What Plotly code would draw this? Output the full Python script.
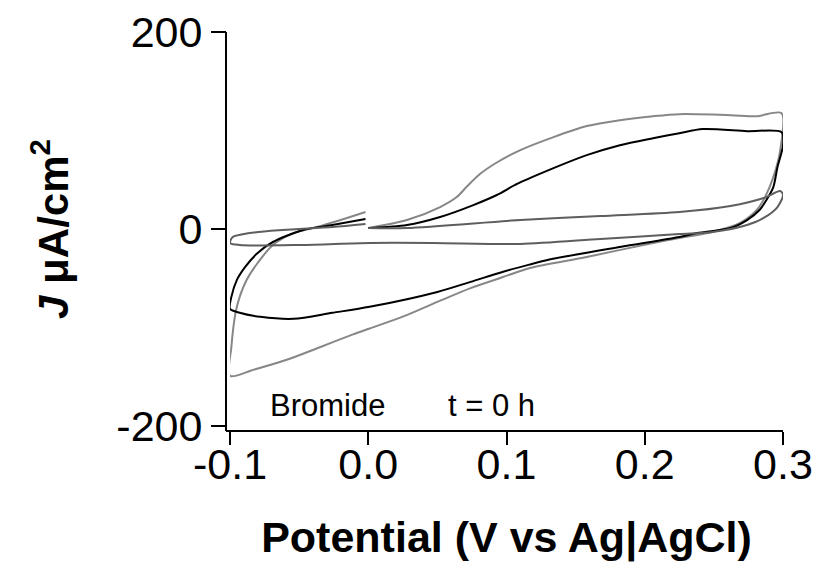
import plotly.graph_objects as go

# Potential (V vs Ag|AgCl) and current density (uA/cm^2)
black_x = [0.000, 0.028, 0.052, 0.076, 0.093, 0.108, 0.134, 0.158, 0.182, 0.206, 0.225, 0.242, 0.274, 0.299,
           0.300, 0.296, 0.293, 0.288, 0.283, 0.274, 0.262, 0.238, 0.225, 0.182, 0.131, 0.117, 0.097, 0.074, 0.050,
           0.001, -0.026, -0.054, -0.078, -0.093, -0.100,
           -0.099, -0.095, -0.089, -0.080, -0.069, -0.047, -0.026, -0.002]
black_y = [1.0, 4.1, 12.2, 24.3, 34.5, 46.0, 61.8, 75.0, 85.1, 92.2, 97.3, 101.4, 99.3, 98.3,
           85.0, 62.8, 42.6, 29.4, 19.3, 9.1, 1.0, -4.1, -8.1, -18.2, -31.0, -36.0, -43.6, -53.7, -63.9,
           -79.0, -85.1, -91.2, -89.2, -85.1, -81.1,
           -68.9, -51.7, -38.5, -24.3, -13.2, -1.0, 4.1, 10.1]

gray_x = [0.000, 0.028, 0.052, 0.064, 0.071, 0.081, 0.093, 0.110, 0.134, 0.158, 0.182, 0.206, 0.225, 0.262, 0.281, 0.299,
          0.298, 0.293, 0.287, 0.281, 0.269, 0.249, 0.225, 0.206, 0.158, 0.117, 0.097, 0.074, 0.050, 0.025, 0.001,
          -0.011, -0.035, -0.059, -0.083, -0.100,
          -0.099, -0.096, -0.093, -0.088, -0.080, -0.069, -0.054, -0.037, -0.020, -0.002]
gray_y = [1.0, 9.1, 22.3, 32.4, 42.6, 56.0, 67.5, 80.1, 93.3, 104.5, 110.5, 114.5, 116.6, 115.6, 114.5, 117.6,
          80.1, 52.7, 32.4, 19.3, 6.1, -3.0, -9.1, -14.2, -28.4, -39.5, -49.0, -60.0, -74.0, -89.0, -101.0,
          -107.0, -120.0, -132.8, -142.9, -149.0,
          -119.6, -85.1, -68.9, -51.7, -34.5, -16.2, -4.1, 2.0, 9.1, 17.2]

dark_x = [0.000, 0.028, 0.110, 0.168, 0.225, 0.262, 0.286, 0.298, 0.300,
          0.296, 0.286, 0.274, 0.249, 0.225, 0.168, 0.110, 0.047, 0.001, -0.049, -0.093, -0.100,
          -0.098, -0.086, -0.062, -0.026, -0.002]
dark_y = [1.0, 1.0, 9.1, 13.2, 17.2, 23.3, 31.4, 38.5, 34.5,
          22.3, 11.2, 4.1, -3.0, -5.1, -10.1, -15.2, -14.2, -14.2, -16.2, -16.2, -14.2,
          -8.1, -4.1, -1.0, 2.0, 5.1]

x_ticks = [-0.1, 0.0, 0.1, 0.2, 0.3]
x_tick_text = ["-0.1", "0.0", "0.1", "0.2", "0.3"]
y_ticks = [-200, 0, 200]
y_tick_text = ["-200", "0", "200"]

W, H = 817, 565
ML, MR, MT, MB = 226, 34, 32, 134
pw = W - ML - MR
ph = H - MT - MB
FONT = "Liberation Sans, Arial, Helvetica, sans-serif"

fig = go.Figure()
for xs, ys, col in [(gray_x, gray_y, "#878787"), (black_x, black_y, "#000000"), (dark_x, dark_y, "#5e5e5e")]:
    fig.add_trace(go.Scatter(x=xs, y=ys, mode="lines",
                             line=dict(color=col, width=2, shape="spline", smoothing=0.8),
                             showlegend=False, hoverinfo="skip"))

fig.update_layout(
    width=W, height=H,
    margin=dict(l=ML, r=MR, t=MT, b=MB, pad=0, autoexpand=False),
    paper_bgcolor="white", plot_bgcolor="white",
    font=dict(family=FONT, color="black"),
    xaxis=dict(range=[-0.1, 0.3], domain=[4 / pw, 1], anchor="free", position=0, automargin=False,
               tickvals=x_ticks, ticktext=x_tick_text, ticks="outside", ticklen=13, tickwidth=2,
               tickcolor="black", showline=False, showgrid=False, zeroline=False,
               tickfont=dict(size=43, family=FONT), ticklabelstandoff=-18,
               title=dict(text="<b>Potential (V vs Ag|AgCl)</b>", font=dict(size=43, family=FONT), standoff=35)),
    yaxis=dict(range=[-200, 200], domain=[5 / ph, 1], anchor="free", position=0, automargin=False,
               tickvals=y_ticks, ticktext=y_tick_text, ticks="outside", ticklen=15, tickwidth=2,
               tickcolor="black", showline=False, showgrid=False, zeroline=False,
               tickfont=dict(size=43, family=FONT),
               title=dict(text="<b><i>J</i> μA/cm<sup>2</sup></b>", font=dict(size=42, family=FONT), standoff=33)),
    shapes=[
        dict(type="line", xref="paper", yref="paper", x0=0, y0=0, x1=1, y1=0, line=dict(color="black", width=2)),
        dict(type="line", xref="paper", yref="paper", x0=0, y0=0, x1=0, y1=1, line=dict(color="black", width=2)),
    ],
    annotations=[
        dict(x=-0.0298, y=-179.4, xref="x", yref="y", text="Bromide", showarrow=False,
             font=dict(size=31, family=FONT)),
        dict(x=0.0895, y=-179.4, xref="x", yref="y", text="t = 0 h", showarrow=False,
             font=dict(size=31, family=FONT)),
    ],
)

fig.write_html("out.html")
